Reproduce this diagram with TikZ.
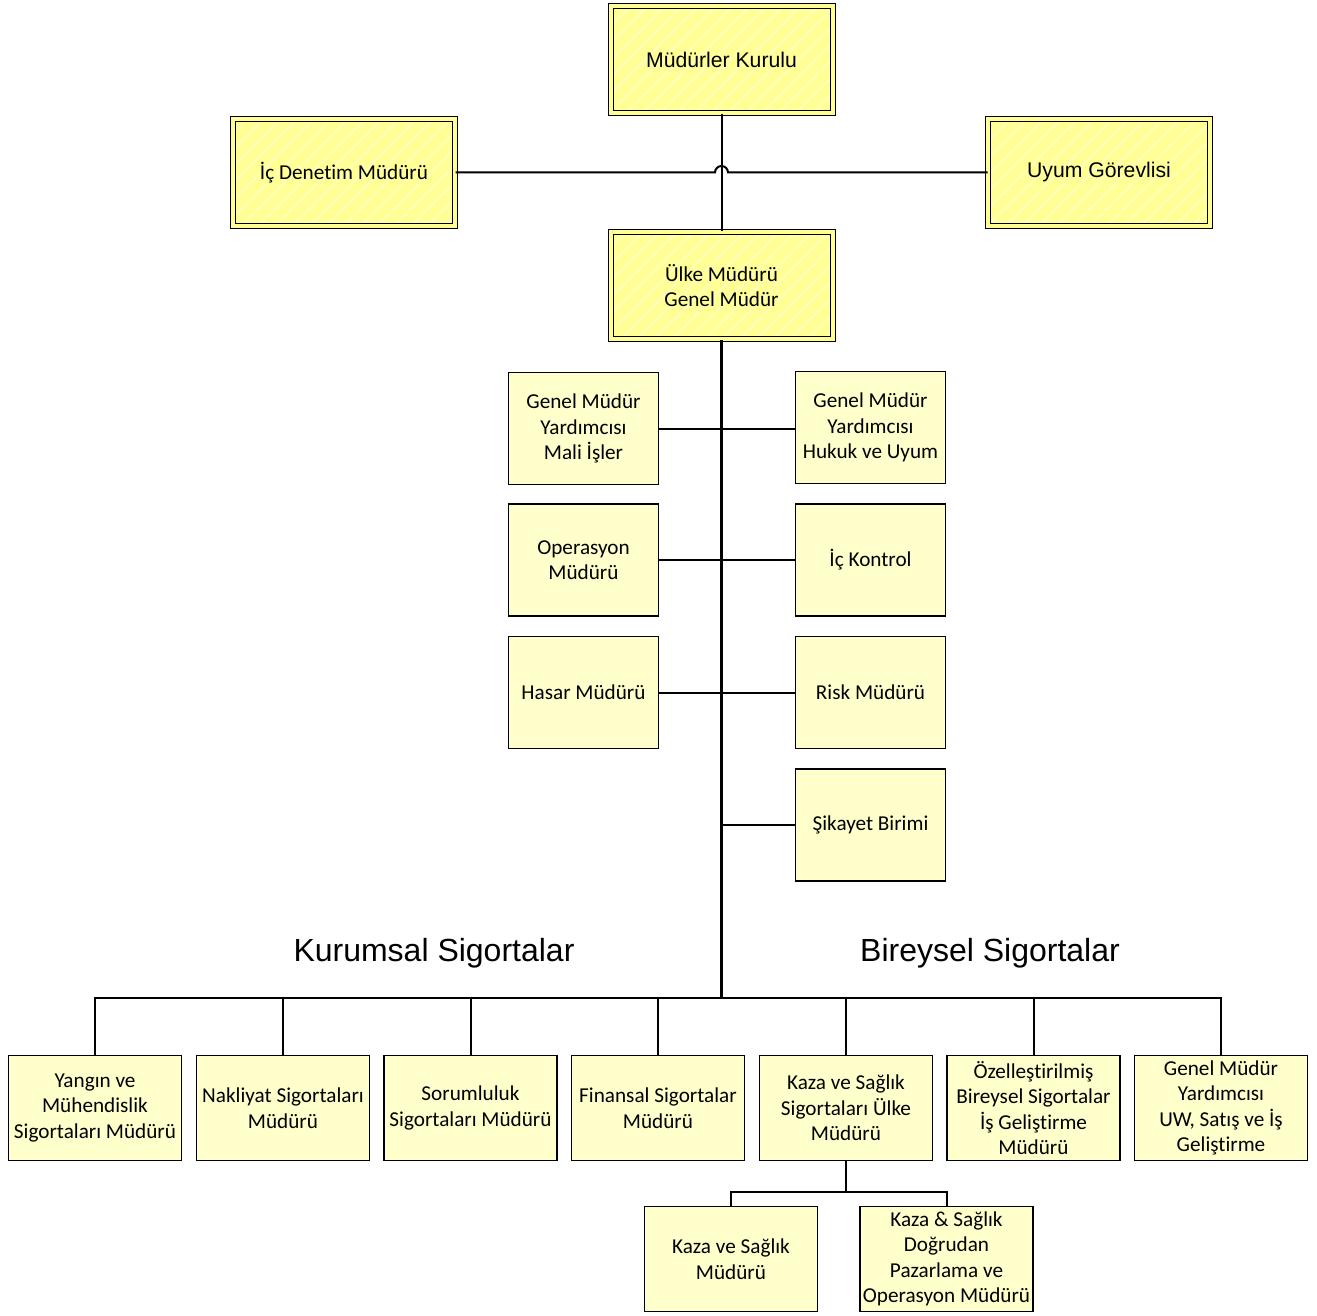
\documentclass[tikz,border=0pt]{standalone}
\usepackage{fontspec}
\setmainfont{Carlito}[RawFeature={-liga;-clig;-calt;-dlig}]
\newfontfamily\arialfont{Liberation Sans}
\usepackage{tikz}
\usetikzlibrary{positioning, patterns.meta}

\definecolor{boardyellow}{RGB}{255,255,150}
\definecolor{unityellow}{RGB}{255,255,204}

\begin{document}
\begin{tikzpicture}[
    x=0.5pt, y=-0.5pt,
    every node/.style={font=\fontsize{10.6}{12.75}\selectfont, align=center, inner sep=1pt},
    arial/.style={font=\arialfont\fontsize{10.6}{12.75}\selectfont},
    board/.style={draw, line width=0.5pt, double=boardyellow, double distance=2pt,
        preaction={fill=boardyellow},
        pattern={Lines[angle=45, distance=6pt, line width=0.7pt]}, pattern color=white!45!boardyellow,
        minimum width=111pt, minimum height=53.5pt},
    unit/.style={draw, line width=0.75pt, fill=unityellow, minimum width=75pt, minimum height=56pt},
    branch/.style={draw, line width=0.75pt, fill=unityellow, minimum width=86.5pt, minimum height=52.5pt},
    link/.style={line width=1pt},
    trunk/.style={line width=1.6pt},
    heading/.style={font=\arialfont\fontsize{16}{19}\selectfont}
]
\useasboundingbox (0,0) rectangle (1317,1316);

% board and general manager
\node[board, arial] (kurul) at (721.5,59.5) {Müdürler Kurulu};
\node[board] (denetim) at (344,172.5) {İç Denetim Müdürü};
\node[board, arial] (uyum) at (1099,172.5) {Uyum Görevlisi};
\node[board] (ulke) at (721.5,285.5) {Ülke Müdürü\\Genel Müdür};

\draw[link] (kurul) -- (ulke);
\draw[link] (denetim) -- ([xshift=-3.25pt]denetim -| kurul.south)
    arc[start angle=180, end angle=0, radius=3.25pt] -- (uyum);

% units beside the trunk
\node[unit] (mali) at (583.5,428.5) {Genel Müdür\\Yardımcısı\\Mali İşler};
\node[unit, below=9pt of mali] (operasyon) {Operasyon\\Müdürü};
\node[unit, below=9.5pt of operasyon] (hasar) {Hasar Müdürü};
\node[unit] (hukuk) at (870.5,427.5) {Genel Müdür\\Yardımcısı\\Hukuk ve Uyum};
\node[unit, below=9.5pt of hukuk] (kontrol) {İç Kontrol};
\node[unit, below=9.5pt of kontrol] (risk) {Risk Müdürü};
\node[unit, below=9.5pt of risk] (sikayet) {Şikayet Birimi};

\coordinate (bus) at (721.5,998);
\draw[trunk] (ulke) -- (bus);
\draw[link] (mali) -- (mali -| hukuk.west);
\draw[link] (operasyon) -- (operasyon -| kontrol.west);
\draw[link] (hasar) -- (hasar -| risk.west);
\draw[link] (sikayet) -- (sikayet -| ulke.south);

% insurance lines
\node[heading] (kurumsal) at (434,953) {Kurumsal Sigortalar};
\node[heading] (bireysel) at (990,953) {Bireysel Sigortalar};

\foreach \name/\px/\label in {
    yangin/95/{Yangın ve\\Mühendislik\\Sigortaları Müdürü},
    nakliyat/283/{Nakliyat Sigortaları\\Müdürü},
    sorumluluk/470.5/{Sorumluluk\\Sigortaları Müdürü},
    finansal/658/{Finansal Sigortalar\\Müdürü},
    kaza/846/{Kaza ve Sağlık\\Sigortaları Ülke\\Müdürü},
    ozel/1033.5/{Özelleştirilmiş\\Bireysel Sigortalar\\İş Geliştirme\\Müdürü},
    uwsatis/1221/{Genel Müdür\\Yardımcısı\\UW, Satış ve İş\\Geliştirme}} {
    \node[branch] (\name) at (\px,1108) {\label};
    \draw[link] (\name.north) |- (bus);
}

% accident and health
\node[branch] (kazamud) at (731,1259) {Kaza ve Sağlık\\Müdürü};
\node[branch] (dogrudan) at (946.5,1259) {Kaza \& Sağlık\\Doğrudan\\Pazarlama ve\\Operasyon Müdürü};
\coordinate (subbus) at (846,1192);
\draw[link] (kaza) -- (subbus);
\draw[link] (kazamud.north) |- (subbus);
\draw[link] (dogrudan.north) |- (subbus);

\end{tikzpicture}
\end{document}
